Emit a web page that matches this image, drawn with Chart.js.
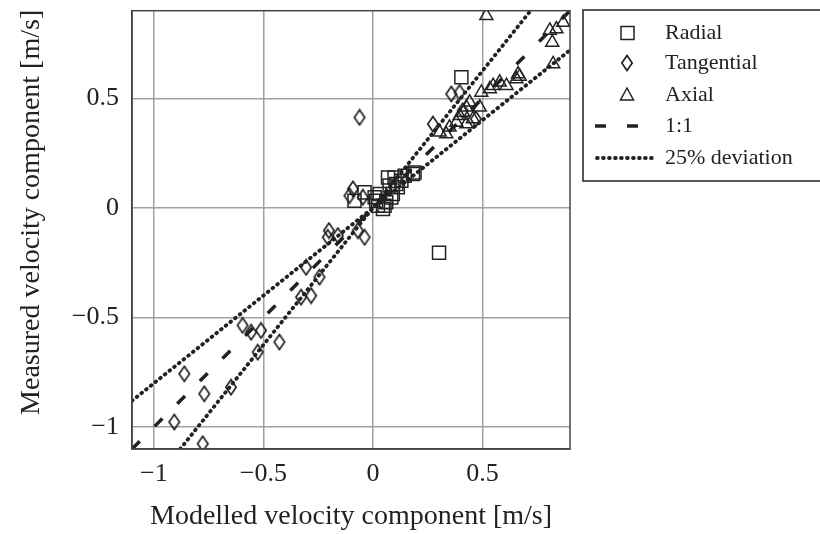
<!DOCTYPE html>
<html>
<head>
<meta charset="utf-8">
<script src="https://cdn.jsdelivr.net/npm/chart.js@4.4.0/dist/chart.umd.min.js"></script>
<style>
html, body { margin: 0; padding: 0; background: #fff; }
</style>
</head>
<body>
<canvas id="velocityChart" width="820" height="534"></canvas>
<script>
// values: modelled (x) vs measured (y), m/s
const radialX = [0.404, 0.302, -0.038, -0.084, 0.015, 0.031, 0.053, 0.046, 0.076, 0.084, 0.099, 0.114, 0.13, 0.145, 0.19, 0.069, 0.061, 0.023, 0.183, 0.107, 0.091, 0.008];
const radialY = [0.596, -0.205, 0.071, 0.033, 0.033, 0.064, 0.01, -0.005, 0.102, 0.048, 0.139, 0.094, 0.124, 0.147, 0.162, 0.139, 0.026, 0.01, 0.155, 0.109, 0.064, 0.049];

const tangX = [-0.061, 0.358, 0.396, 0.274, 0.41, 0.47, -0.091, -0.107, -0.046, -0.201, -0.206, -0.16, -0.069, -0.038, -0.305, -0.244, -0.328, -0.282, -0.595, -0.556, -0.511, -0.427, -0.526, -0.648, -0.861, -0.77, -0.907, -0.777];
const tangY = [0.413, 0.52, 0.527, 0.383, 0.444, 0.406, 0.087, 0.056, 0.049, -0.103, -0.134, -0.126, -0.103, -0.134, -0.271, -0.316, -0.407, -0.4, -0.536, -0.567, -0.559, -0.612, -0.658, -0.818, -0.757, -0.848, -0.977, -1.076];

const axialX = [0.518, 0.869, 0.808, 0.838, 0.819, 0.823, 0.663, 0.655, 0.61, 0.579, 0.549, 0.534, 0.495, 0.442, 0.427, 0.488, 0.412, 0.396, 0.457, 0.381, 0.35, 0.305, 0.335, 0.427, 0.67];
const axialY = [0.877, 0.846, 0.81, 0.816, 0.755, 0.657, 0.611, 0.588, 0.558, 0.573, 0.558, 0.543, 0.527, 0.482, 0.459, 0.459, 0.436, 0.421, 0.406, 0.39, 0.368, 0.345, 0.337, 0.383, 0.6];

// reference lines
const oneX = [-1.1, 0.9];
const oneY = [-1.1, 0.9];
const upperX = [-0.88, 0.72];
const upperY = [-1.1, 0.9];
const lowerX = [-1.1, 0.9];
const lowerY = [-0.88, 0.72];

const xTicks = [-1, -0.5, 0, 0.5];
const yTicks = [-1, -0.5, 0, 0.5];

const ink = "#222";
const serif = "'Liberation Serif', 'Times New Roman', serif";
const dotted = [0.8, 5.2];

function pts(xs, ys) {
    return xs.map((x, i) => ({ x: x, y: ys[i] }));
}

function fmt(v) {
    return v < 0 ? "\u2212" + Math.abs(v) : String(v);
}

// tall diamond marker like the original
function makeDiamond() {
    let c = document.createElement("canvas");
    c.width = 14;
    c.height = 18;
    let g = c.getContext("2d");
    g.strokeStyle = ink;
    g.lineWidth = 1.7;
    g.beginPath();
    g.moveTo(7, 1.5);
    g.lineTo(12.2, 9);
    g.lineTo(7, 16.5);
    g.lineTo(1.8, 9);
    g.closePath();
    g.stroke();
    return c;
}
const diamond = makeDiamond();

const boxLegend = {
    id: "boxLegend",
    afterDraw(chart) {
        let ctx = chart.ctx;
        let a = chart.chartArea;
        ctx.save();
        // frame around the plot
        ctx.strokeStyle = "#444";
        ctx.lineWidth = 1.5;
        ctx.strokeRect(a.left, a.top, a.right - a.left, a.bottom - a.top);

        // legend box
        ctx.strokeStyle = ink;
        ctx.strokeRect(583, 10, 240, 171);
        ctx.fillStyle = ink;
        ctx.font = "22px " + serif;
        ctx.textBaseline = "middle";
        ctx.textAlign = "left";
        let rows = [33, 63, 95, 126, 158];
        let ds = chart.data.datasets;
        for (let i = 0; i < 5; i++) {
            let y = rows[i];
            let d = ds[i];
            ctx.strokeStyle = ink;
            ctx.setLineDash([]);
            ctx.lineCap = "butt";
            if (i === 0) {
                ctx.lineWidth = 1.5;
                ctx.strokeRect(621, y - 6.5, 13, 13);
            } else if (i === 1) {
                ctx.drawImage(diamond, 620, y - 9);
            } else if (i === 2) {
                ctx.lineWidth = 1.5;
                ctx.beginPath();
                ctx.moveTo(627, y - 7);
                ctx.lineTo(633.5, y + 5);
                ctx.lineTo(620.5, y + 5);
                ctx.closePath();
                ctx.stroke();
            } else {
                ctx.lineWidth = d.borderWidth;
                ctx.setLineDash(d.borderDash);
                ctx.lineCap = d.borderCapStyle || "butt";
                ctx.beginPath();
                ctx.moveTo(i === 3 ? 595 : 597, y);
                ctx.lineTo(i === 3 ? 640 : 656, y);
                ctx.stroke();
            }
            ctx.setLineDash([]);
            ctx.fillText(d.label, 665, y);
        }
        ctx.restore();
    }
};

const markerStyle = { borderColor: ink, backgroundColor: "rgba(0,0,0,0)", borderWidth: 1.5 };

function noPad(s) {
    s.paddingTop = 0;
    s.paddingBottom = 0;
    s.paddingLeft = 0;
    s.paddingRight = 0;
}

new Chart(document.getElementById("velocityChart"), {
    type: "scatter",
    data: {
        datasets: [
            Object.assign({ label: "Radial", data: pts(radialX, radialY), pointStyle: "rect", pointRadius: 9.2, pointHoverRadius: 9.2 }, markerStyle),
            Object.assign({ label: "Tangential", data: pts(tangX, tangY), pointStyle: diamond, pointRadius: 7 }, markerStyle),
            Object.assign({ label: "Axial", data: pts(axialX, axialY), pointStyle: "triangle", pointRadius: 7.5 }, markerStyle),
            {
                type: "line", label: "1:1", data: pts(oneX, oneY),
                borderColor: ink, borderWidth: 3.5, borderDash: [11, 21],
                pointRadius: 0, fill: false
            },
            {
                type: "line", label: "25% deviation", data: pts(upperX, upperY),
                borderColor: ink, borderWidth: 3.8, borderDash: dotted, borderCapStyle: "round",
                pointRadius: 0, fill: false
            },
            {
                type: "line", label: "25% deviation low", data: pts(lowerX, lowerY),
                borderColor: ink, borderWidth: 3.8, borderDash: dotted, borderCapStyle: "round",
                pointRadius: 0, fill: false
            }
        ]
    },
    options: {
        responsive: false,
        animation: false,
        layout: { padding: { top: 10, right: 250, left: 0, bottom: 0 } },
        plugins: {
            legend: { display: false },
            tooltip: { enabled: false }
        },
        scales: {
            x: {
                type: "linear",
                min: -1.1,
                max: 0.9,
                afterBuildTicks: s => { s.ticks = xTicks.map(v => ({ value: v })); },
                afterFit: s => { s.height = 85; noPad(s); },
                grid: { color: "#a0a0a0", lineWidth: 1.5, drawTicks: false },
                border: { color: "#444", width: 1.5 },
                ticks: { color: ink, font: { family: serif, size: 26 }, padding: 10, callback: v => fmt(v) },
                title: { display: true, text: "Modelled velocity component [m/s]", color: ink, font: { family: serif, size: 28 }, padding: { top: 0, bottom: 1 } }
            },
            y: {
                type: "linear",
                min: -1.1,
                max: 0.9,
                afterBuildTicks: s => { s.ticks = yTicks.map(v => ({ value: v })); },
                afterFit: s => { s.width = 132; noPad(s); },
                grid: { color: "#a0a0a0", lineWidth: 1.5, drawTicks: false },
                border: { color: "#444", width: 1.5 },
                ticks: { color: ink, font: { family: serif, size: 26 }, padding: 13, callback: v => fmt(v) },
                title: { display: true, text: "\u00a0\u00a0\u00a0\u00a0\u00a0Measured velocity component [m/s]", color: ink, font: { family: serif, size: 28 }, padding: { top: 15, bottom: 0 } }
            }
        }
    },
    plugins: [boxLegend]
});
</script>
</body>
</html>
